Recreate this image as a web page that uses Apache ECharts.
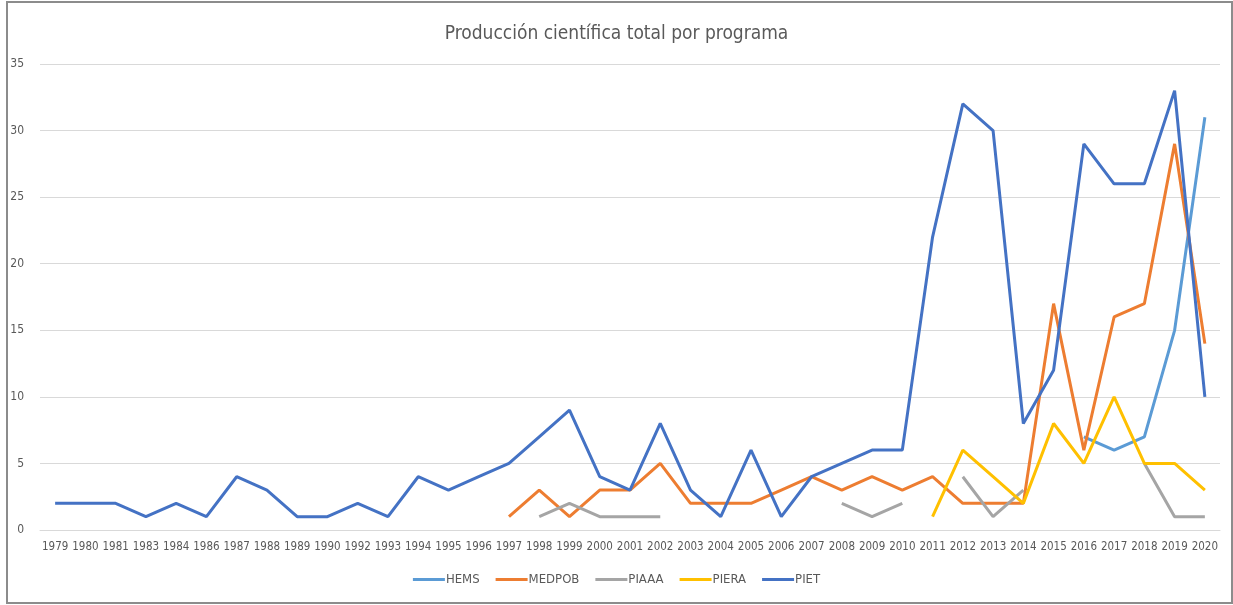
<!DOCTYPE html>
<html>
<head>
<meta charset="utf-8">
<script src="https://cdn.jsdelivr.net/npm/echarts@6/dist/echarts.min.js"></script>
<style>html,body{margin:0;padding:0;background:#fff;}#c{width:1233px;height:605px;}</style>
</head>
<body>
<div id="c"></div>
<script>
const years = ['1979','1980','1981','1983','1984','1986','1987','1988','1989','1990','1992','1993','1994','1995','1996','1997','1998','1999','2000','2001','2002','2003','2004','2005','2006','2007','2008','2009','2010','2011','2012','2013','2014','2015','2016','2017','2018','2019','2020'];
const _ = null;
const hems   = [_,_,_,_,_,_,_,_,_,_,_,_,_,_,_,_,_,_,_,_,_,_,_,_,_,_,_,_,_,_,_,_,_,_,7,6,7,15,31];
const medpob = [_,_,_,_,_,_,_,_,_,_,_,_,_,_,_,1,3,1,3,3,5,2,2,2,3,4,3,4,3,4,2,2,2,17,6,16,17,29,14];
const piaaa  = [_,_,_,_,_,_,_,_,_,_,_,_,_,_,_,_,1,2,1,1,1,_,_,_,_,_,2,1,2,_,4,1,3,_,_,_,5,1,1];
const piera  = [_,_,_,_,_,_,_,_,_,_,_,_,_,_,_,_,_,_,_,_,_,_,_,_,_,_,_,_,_,1,6,4,2,8,5,10,5,5,3];
const piet   = [2,2,2,1,2,1,4,3,1,1,2,1,4,3,4,5,7,9,4,3,8,3,1,6,1,4,5,6,6,22,32,30,8,12,29,26,26,33,10];
const yTicks = {min: 0, max: 35, interval: 5};

const font = "'Liberation Sans Narrow','DejaVu Sans Condensed','Open Sans',sans-serif";
const chart = echarts.init(document.getElementById('c'), null, {renderer: 'canvas'});
function mk(name, data, color) {
  return {name, type: 'line', data, symbol: 'none', connectNulls: false,
    lineStyle: {color, width: 3}, itemStyle: {color}};
}
chart.setOption({
  animation: false,
  title: {text: 'Producción científica total por programa', left: 'center', top: 20,
    textStyle: {fontFamily: font, fontSize: 19, fontWeight: 'normal', color: '#595959'}},
  graphic: [{type: 'rect', shape: {x: 7, y: 2, width: 1225, height: 601},
    style: {fill: 'none', stroke: '#8c8c8c', lineWidth: 2}, silent: true}],
  grid: {left: 40, right: 13, top: 64, bottom: 75},
  legend: {bottom: 14, left: 'center', icon: 'rect', itemWidth: 32, itemHeight: 3, itemGap: 16,
    textStyle: {fontFamily: font, fontSize: 13, color: '#595959', padding: [0, 0, 0, -4]},
    data: ['HEMS','MEDPOB','PIAAA','PIERA','PIET']},
  xAxis: {type: 'category', data: years, boundaryGap: true,
    axisLine: {lineStyle: {color: '#d9d9d9'}}, axisTick: {show: false},
    axisLabel: {interval: 0, fontFamily: font, fontSize: 11.5, color: '#595959', margin: 11}},
  yAxis: {type: 'value', min: yTicks.min, max: yTicks.max, interval: yTicks.interval,
    axisLine: {show: false}, axisTick: {show: false},
    splitLine: {lineStyle: {color: '#d9d9d9'}},
    axisLabel: {fontFamily: font, fontSize: 12, color: '#595959', margin: 16}},
  series: [
    mk('HEMS', hems, '#5B9BD5'),
    mk('MEDPOB', medpob, '#ED7D31'),
    mk('PIAAA', piaaa, '#A5A5A5'),
    mk('PIERA', piera, '#FFC000'),
    mk('PIET', piet, '#4472C4')
  ]
});
</script>
</body>
</html>
